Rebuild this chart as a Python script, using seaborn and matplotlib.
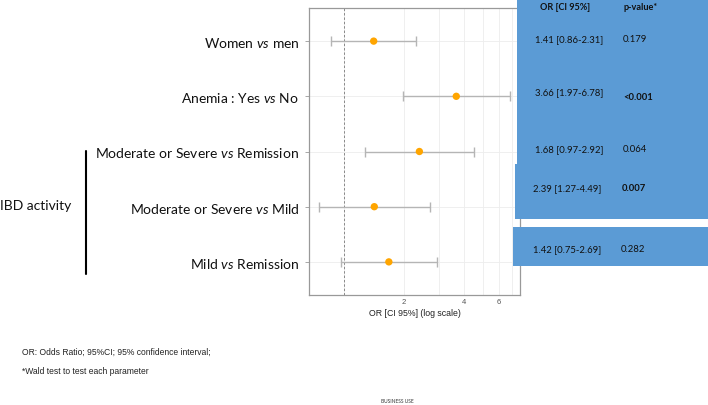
import matplotlib
matplotlib.use("Agg")
import matplotlib.pyplot as plt
import matplotlib.patches as mpatches
from matplotlib.ticker import FixedLocator, NullFormatter, FixedFormatter
import seaborn as sns
import pandas as pd
import numpy as np

# ---- data ----
labels = ["Women $\\mathit{vs}$ men",
          "Anemia : Yes $\\mathit{vs}$ No",
          "Moderate or Severe $\\mathit{vs}$ Remission",
          "Moderate or Severe $\\mathit{vs}$ Mild",
          "Mild $\\mathit{vs}$ Remission"]
odds = [1.41, 3.66, 2.39, 1.42, 1.68]
ci_low = [0.86, 1.97, 1.27, 0.75, 0.97]
ci_high = [2.31, 6.78, 4.49, 2.69, 2.92]

table_or = ["1.41 [0.86-2.31]", "3.66 [1.97-6.78]", "1.68 [0.97-2.92]",
            "2.39 [1.27-4.49]", "1.42 [0.75-2.69]"]
table_p = ["0.179", "<0.001", "0.064", "0.007", "0.282"]
table_p_bold = [False, True, False, True, False]

x_ticks = [2, 4, 6]
grid_ticks = [1, 2, 3, 4, 5, 6, 7]

df = pd.DataFrame({"label": labels, "or": odds, "lo": ci_low, "hi": ci_high,
                   "pos": np.arange(len(labels))})

sns.set_theme(style="white")
plt.rcParams['font.family'] = ['Lato', 'DejaVu Sans']
plt.rcParams['mathtext.fontset'] = 'custom'
plt.rcParams['mathtext.rm'] = 'Lato'
plt.rcParams['mathtext.it'] = 'Lato:italic'

W, H = 708, 406
fig = plt.figure(figsize=(W / 100, H / 100), dpi=100)
fig.patch.set_facecolor("white")

def fx(px):
    return px / W

def fy(py):
    return 1 - py / H

ax = fig.add_axes([fx(309), fy(296), fx(520) - fx(309), fy(9) - fy(296)])
ax.set_facecolor("white")

ax.set_xscale("log")
ax.set_xlim(0.668, 7.64)
ax.set_ylim(4.6, -0.6)

# grid
for g in grid_ticks:
    ax.axvline(g, color="#EDEDED", lw=0.6, zorder=0)
for p in df["pos"]:
    ax.axhline(p, color="#EDEDED", lw=0.6, zorder=0)

ax.axvline(1, color="#888888", lw=0.7, ls=(0, (2.5, 2)), zorder=1)

ax.errorbar(df["or"], df["pos"],
            xerr=[df["or"] - df["lo"], df["hi"] - df["or"]],
            fmt="none", ecolor="#B5B5B5", elinewidth=1.0, capsize=3.5,
            capthick=1.0, zorder=2)
sns.scatterplot(data=df, x="or", y="pos", ax=ax, color="#FFA500",
                s=28, edgecolor="none", zorder=3, legend=False)

ax.xaxis.set_major_locator(FixedLocator(x_ticks))
ax.xaxis.set_major_formatter(FixedFormatter([str(t) for t in x_ticks]))
ax.xaxis.set_minor_formatter(NullFormatter())
ax.xaxis.set_minor_locator(FixedLocator([]))
ax.tick_params(axis="x", length=0, pad=2, labelsize=5.5, labelcolor="#555555")
for t in ax.get_xticklabels():
    t.set_fontfamily("Liberation Sans")

ax.set_yticks(df["pos"])
ax.set_yticklabels(labels, fontsize=10, color="#111111")
ax.tick_params(axis="y", length=3, width=0.6, color="#999999", pad=4, left=True)

ax.set_xlabel("OR [CI 95%] (log scale)", fontsize=6.3, family="Liberation Sans",
              color="#222222", labelpad=2)
ax.set_ylabel("")
for s in ax.spines.values():
    s.set_color("#999999")
    s.set_linewidth(0.9)

# group bracket
fig.add_artist(plt.Line2D([fx(86), fx(86)], [fy(152), fy(275)], color="black", lw=1.5))
fig.text(fx(0), fy(206), "IBD activity", fontsize=10, ha="left", va="center", color="#111111")

# blue table panels
blue = "#5B9BD5"
fig.add_artist(mpatches.Rectangle((fx(517), fy(168)), fx(708) - fx(517), fy(0) - fy(168),
                                  transform=fig.transFigure, facecolor=blue, edgecolor="none", zorder=5))
fig.add_artist(mpatches.Rectangle((fx(515), fy(220)), fx(708) - fx(515), fy(165) - fy(220),
                                  transform=fig.transFigure, facecolor=blue, edgecolor="none", zorder=5))
fig.add_artist(mpatches.Rectangle((fx(513), fy(267)), fx(708) - fx(513), fy(228) - fy(267),
                                  transform=fig.transFigure, facecolor=blue, edgecolor="none", zorder=5))

fig.text(fx(565), fy(8), "OR [CI 95%]", fontsize=6.6, weight="bold", ha="center", va="center",
         color="#111111", zorder=6)
fig.text(fx(623), fy(8), "p-value*", fontsize=6.6, weight="bold", ha="left", va="center",
         color="#111111", zorder=6)

or_pos = [(569, 40), (569, 93), (569, 150), (567, 189), (567, 250)]
p_pos = [(623, 40), (623, 97), (623, 150), (622, 189), (621, 250)]
for txt, (x, y) in zip(table_or, or_pos):
    fig.text(fx(x), fy(y), txt, fontsize=6.8, ha="center", va="center", color="#111111", zorder=6)
for txt, b, (x, y) in zip(table_p, table_p_bold, p_pos):
    fig.text(fx(x), fy(y), txt, fontsize=6.8, ha="left", va="center", color="#111111",
             weight="bold" if b else "normal", zorder=6)

# footnotes
fig.text(fx(22), fy(352), "OR: Odds Ratio; 95%CI; 95% confidence interval;", fontsize=6.15,
         family="Liberation Sans", ha="left", va="center", color="#222222")
fig.text(fx(22), fy(372), "*Wald test to test each parameter", fontsize=6.15,
         family="Liberation Sans", ha="left", va="center", color="#222222")
fig.text(fx(397), fy(402), "BUSINESS USE", fontsize=3.5, ha="center", va="center", color="#333333")

fig.savefig("out.png", dpi=100)
